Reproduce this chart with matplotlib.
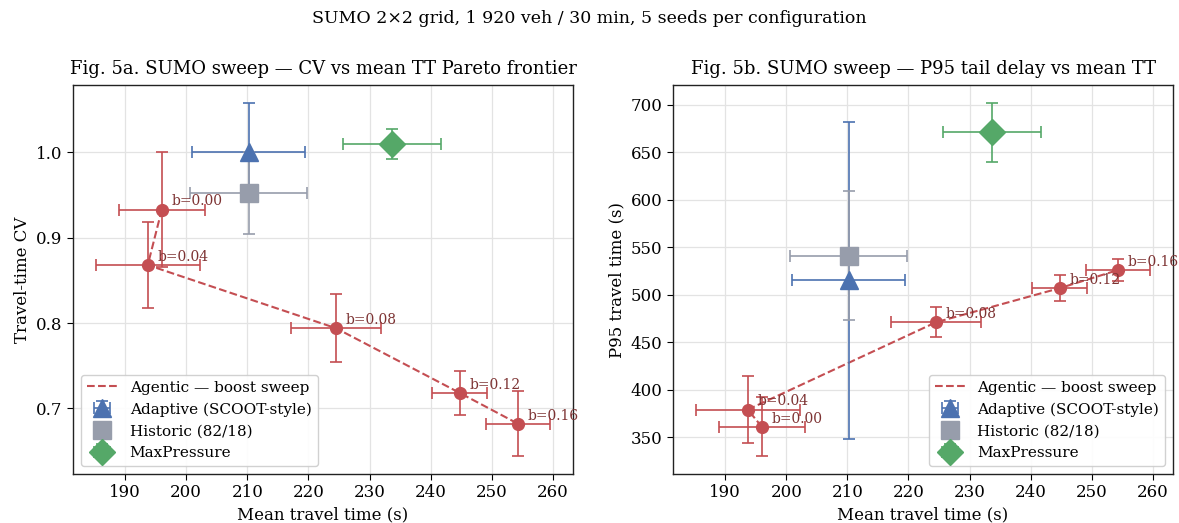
import matplotlib
matplotlib.use("Agg")
import matplotlib.pyplot as plt

plt.rcParams['font.family'] = ['DejaVu Serif']

# agentic boost sweep
boost = [0.00, 0.04, 0.08, 0.12, 0.16]
ag_tt = [196.0, 193.7, 224.5, 244.8, 254.3]
ag_tt_err = [7.0, 8.5, 7.3, 4.5, 5.3]
ag_cv = [0.933, 0.868, 0.794, 0.718, 0.682]
ag_cv_err = [0.067, 0.050, 0.040, 0.026, 0.038]
ag_p95 = [361, 379, 471, 507, 526]
ag_p95_err = [31, 35, 16, 13.5, 12]

# baselines
base_names = ["Adaptive (SCOOT-style)", "Historic (82/18)", "MaxPressure"]
base_tt = [210.2, 210.2, 233.7]
base_tt_err = [9.2, 9.6, 8.0]
base_cv = [1.000, 0.952, 1.010]
base_cv_err = [0.058, 0.048, 0.018]
base_p95 = [515, 541, 671]
base_p95_err = [167, 68, 31]
base_colors = ["#4C72B0", "#979dab", "#55A868"]
base_markers = ["^", "s", "D"]
base_ms = [13, 13, 13]

red = "#C44E52"

fig, axes = plt.subplots(1, 2, figsize=(11.79, 5.23), dpi=100)
fig.subplots_adjust(left=0.062, right=0.995, top=0.837, bottom=0.094, wspace=0.2)


def draw(ax, yv, yerr, byv, byerr, legloc):
    ax.set_axisbelow(True)
    ax.grid(True, color="#e3e3e3", linewidth=0.9)
    ax.plot(ag_tt, yv, "--", color=red, lw=1.5, label="Agentic — boost sweep")
    ax.errorbar(ag_tt, yv, xerr=ag_tt_err, yerr=yerr, fmt="o", color=red,
                ms=8.5, capsize=4, elinewidth=1.2, capthick=1.2)
    for b, x, y in zip(boost, ag_tt, yv):
        ax.annotate(f"b={b:.2f}", (x, y), xytext=(7, 3), textcoords="offset points",
                    fontsize=10, color="#7d3333")
    for i in range(3):
        ax.errorbar(base_tt[i], byv[i], xerr=base_tt_err[i], yerr=byerr[i],
                    fmt=base_markers[i], color=base_colors[i], ms=base_ms[i],
                    capsize=4, elinewidth=1.2, capthick=1.2, label=base_names[i])
    ax.set_xlabel("Mean travel time (s)", fontsize=12)
    ax.tick_params(labelsize=12, direction="out", length=4)
    for s in ax.spines.values():
        s.set_color("#222222")
        s.set_linewidth(1.0)
    ax.legend(loc=legloc, fontsize=11, framealpha=0.9, edgecolor="#cccccc")


ax = axes[0]
draw(ax, ag_cv, ag_cv_err, base_cv, base_cv_err, "lower left")
ax.set_ylabel("Travel-time CV", fontsize=12)
ax.set_title("Fig. 5a. SUMO sweep — CV vs mean TT Pareto frontier", fontsize=13, pad=8)

ax = axes[1]
draw(ax, ag_p95, ag_p95_err, base_p95, base_p95_err, "lower right")
ax.set_ylabel("P95 travel time (s)", fontsize=12)
ax.set_title("Fig. 5b. SUMO sweep — P95 tail delay vs mean TT", fontsize=13, pad=8)

fig.suptitle("SUMO 2×2 grid, 1 920 veh / 30 min, 5 seeds per configuration",
             fontsize=12.5, y=0.98)

fig.savefig("out.png", dpi=100)
